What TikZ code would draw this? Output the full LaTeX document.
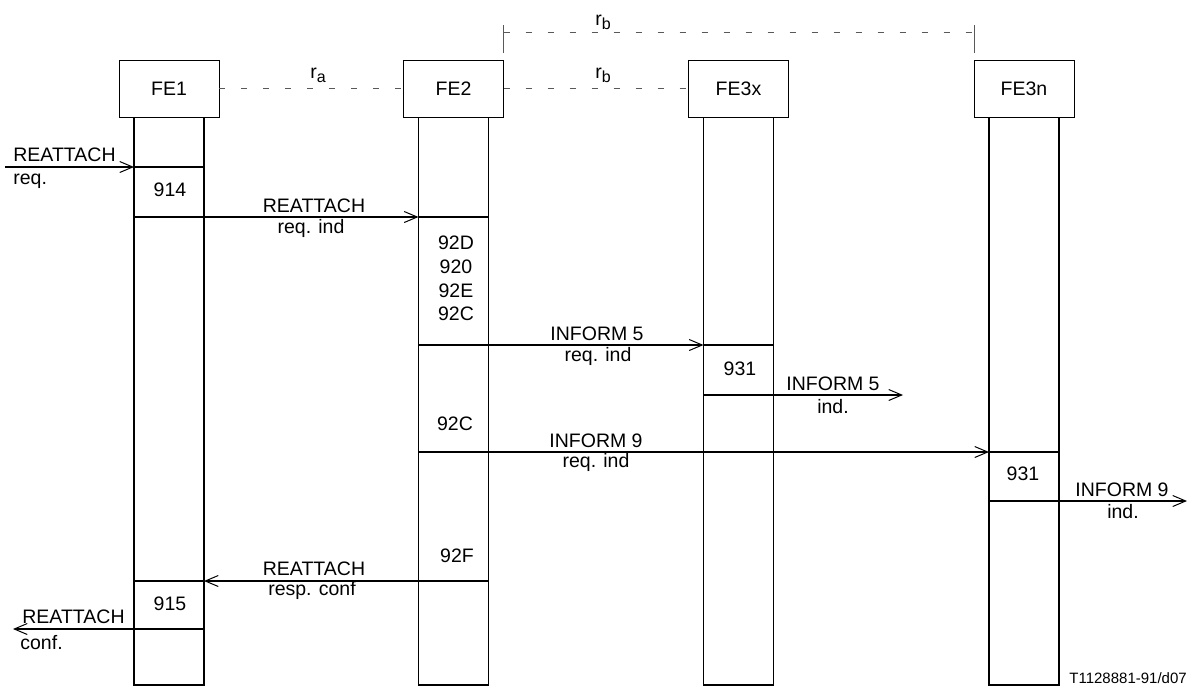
\documentclass[tikz,border=0pt]{standalone}
\usepackage{fontspec}
\setmainfont{Liberation Sans}
\usetikzlibrary{arrows.meta,positioning}
\newcommand{\lblfont}{\fontsize{9.75}{11}\selectfont}
\newcommand{\idx}[2]{#1\raisebox{-2pt}{\fontsize{8}{9}\selectfont #2}}
\tikzset{
  febox/.style    = {draw,line width=0.5pt,minimum width=50pt,minimum height=28.5pt,
                     inner sep=0pt,outer sep=0pt,font=\lblfont},
  lifecol/.style  = {minimum width=35pt,minimum height=284pt,inner sep=0pt,outer sep=0pt},
  lifeline/.style = {line width=0.9pt},
  msg/.style      = {-{Straight Barb[length=6.5pt,width=5.5pt,line width=0.5pt]},line width=0.8pt},
  msgbar/.style   = {line width=0.8pt},
  iface/.style    = {gray!70!black,line width=0.4pt,dash pattern=on 3pt off 8pt},
  rbtick/.style   = {gray!70!black,line width=0.5pt},
  lbl/.style      = {inner sep=0pt,anchor=base,font=\lblfont}
}

\begin{document}
\begin{tikzpicture}[x=0.5pt,y=-0.5pt]
  \useasboundingbox (0,0) rectangle (1195,693);
  % functional entities
  \node[febox] (fe1)  at (169,88.5)   {FE1};
  \node[febox] (fe2)  at (453.5,88.5) {FE2};
  \node[febox] (fe3x) at (738.5,88.5) {FE3x};
  \node[febox] (fe3n) at (1024,88.5)  {FE3n};
  \node[lifecol,below=0pt of fe1]  (c1) {};
  \node[lifecol,below=0pt of fe2]  (c2) {};
  \node[lifecol,below=0pt of fe3x] (c3) {};
  \node[lifecol,below=0pt of fe3n] (c4) {};
  \foreach \c in {c1,c2,c3,c4}
    \draw[lifeline] (\c.north west) -- (\c.south west) -- (\c.south east) -- (\c.north east);
  % relationships
  \draw[iface] (fe1) -- (fe2);
  \draw[iface] (fe2) -- (fe3x);
  \draw[rbtick] ([yshift=3.5pt]fe2.north east) -- ([yshift=17.5pt]fe2.north east);
  \draw[rbtick] ([yshift=3.5pt]fe3n.north west) -- ([yshift=17.5pt]fe3n.north west);
  \draw[iface] ([yshift=14pt]fe2.north east) -- ([yshift=14pt]fe3n.north west);
  \node[lbl,anchor=base west] (ra)  at (310,78) {\idx{r}{a}};
  \node[lbl,anchor=base west] (rb1) at (595,25) {\idx{r}{b}};
  \node[lbl,anchor=base west] (rb2) at (595,78) {\idx{r}{b}};
  % message levels and free ends
  \foreach \n/\y in {m1/167,m2/217,m3/345,m4/395,m5/452,m6/501,m7/581,m8/629}
    \coordinate (\n) at (0,\y);
  \coordinate (ext1) at (5,167);
  \coordinate (ext2) at (903,395);
  \coordinate (ext3) at (1187,501);
  \coordinate (ext4) at (13,629);
  % messages
  \draw[msg] (ext1) -- (c1.west |- m1);
  \draw[msgbar] (c1.west |- m1) -- (c1.east |- m1);
  \draw[msg] (c1.west |- m2) -- (c2.west |- m2);
  \draw[msgbar] (c2.west |- m2) -- (c2.east |- m2);
  \draw[msg] (c2.west |- m3) -- (c3.west |- m3);
  \draw[msgbar] (c3.west |- m3) -- (c3.east |- m3);
  \draw[msg] (c3.west |- m4) -- (ext2);
  \draw[msg] (c2.west |- m5) -- (c4.west |- m5);
  \draw[msgbar] (c4.west |- m5) -- (c4.east |- m5);
  \draw[msg] (c4.west |- m6) -- (ext3);
  \draw[msg] (c2.east |- m7) -- (c1.east |- m7);
  \draw[msgbar] (c1.east |- m7) -- (c1.west |- m7);
  \draw[msg] (c1.east |- m8) -- (ext4);
  % message labels
  \node[lbl,anchor=base west] (l1a) at (13,161)  {REATTACH};
  \node[lbl,anchor=base west] (l1b) at (13,184)  {req.};
  \node[lbl] (l2a) at (314,212)  {REATTACH};
  \node[lbl] (l2b) at (311,233)  {req. ind};
  \node[lbl] (l3a) at (597,340)  {INFORM 5};
  \node[lbl] (l3b) at (598,361)  {req. ind};
  \node[lbl] (l4a) at (833,390)  {INFORM 5};
  \node[lbl] (l4b) at (833,413)  {ind.};
  \node[lbl] (l5a) at (596,447)  {INFORM 9};
  \node[lbl] (l5b) at (596,467)  {req. ind};
  \node[lbl] (l6a) at (1122,496) {INFORM 9};
  \node[lbl] (l6b) at (1123,518) {ind.};
  \node[lbl] (l7a) at (314,575)  {REATTACH};
  \node[lbl] (l7b) at (312,595)  {resp. conf};
  \node[lbl,anchor=base west] (l8a) at (22,623) {REATTACH};
  \node[lbl,anchor=base west] (l8b) at (20,649) {conf.};
  % SDL references
  \foreach \t/\x/\y [count=\i] in {914/170/196,92D/456/249,920/456/273,92E/456/297,
      92C/456/320,931/740/375,92C/455/430,931/1023/480,92F/457/562,915/170/610}
    \node[lbl] (sdl\i) at (\x,\y) {\t};
  \node[lbl,anchor=base west,font=\fontsize{7.5}{9}\selectfont] (ref) at (1069,683) {T1128881-91/d07};
\end{tikzpicture}
\end{document}
